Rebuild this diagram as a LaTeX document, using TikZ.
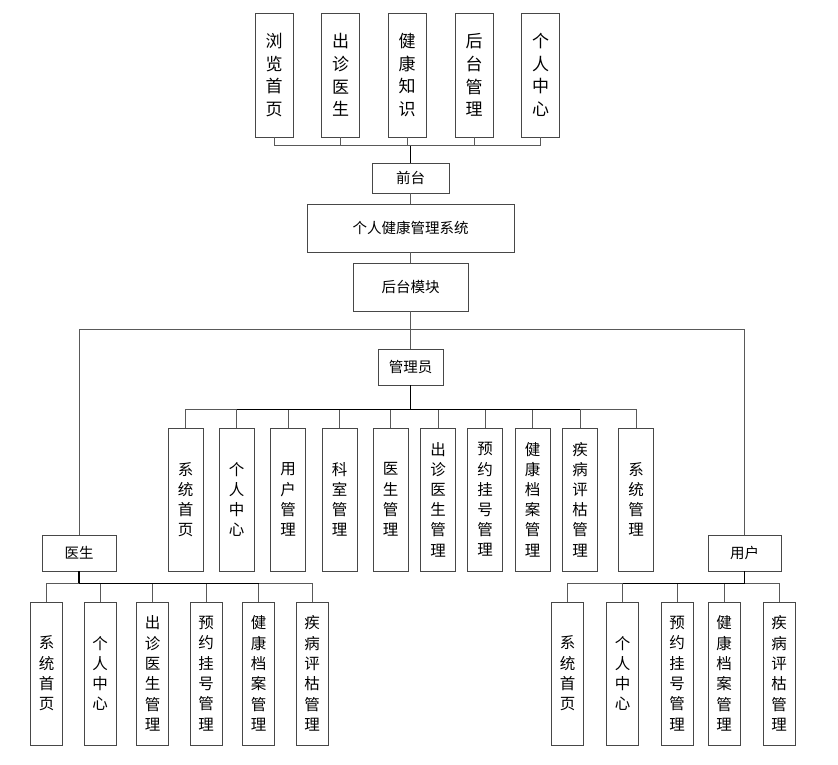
\documentclass[tikz,border=0pt]{standalone}
\usepackage{fontspec}
\setmainfont{Noto Sans CJK SC}
\begin{document}
\begin{tikzpicture}[x=1pt,y=-1pt,
  box/.style={draw=black!72,line width=0.9pt,fill=white,inner sep=0pt,align=center,text=black},
  hbox/.style={box,font=\fontsize{14.5}{17}\selectfont},
  topbox/.style={box,minimum width=38pt,minimum height=124pt,font=\fontsize{17}{22.7}\selectfont},
  midbox/.style={box,minimum width=35pt,minimum height=143pt,font=\fontsize{15.5}{20.2}\selectfont},
  lowbox/.style={box,minimum width=32pt,minimum height=143pt,font=\fontsize{15.5}{20.3}\selectfont},
  conn/.style={draw=black!65,line width=0.8pt},
  trunk/.style={draw=black,line width=1.2pt}]
\useasboundingbox (0,0) rectangle (838,764);
% top level
\node[topbox] (t1) at (274,75) {浏\\览\\首\\页};
\node[topbox] (t2) at (340.5,75) {出\\诊\\医\\生};
\node[topbox] (t3) at (407,75) {健\\康\\知\\识};
\node[topbox] (t4) at (474,75) {后\\台\\管\\理};
\node[topbox] (t5) at (540.5,75) {个\\人\\中\\心};
\node[hbox,minimum width=77pt,minimum height=30pt] (qt) at (410.5,178) {前台};
\node[hbox,minimum width=207pt,minimum height=48pt] (sys) at (410.5,228) {个人健康管理系统};
\node[hbox,minimum width=115pt,minimum height=48pt] (ht) at (410.5,287) {后台模块};
\node[hbox,minimum width=65pt,minimum height=36pt] (adm) at (410.5,367) {管理员};
\node[hbox,minimum width=74pt,minimum height=36pt] (doc) at (79,553) {医生};
\node[hbox,minimum width=73pt,minimum height=36pt] (usr) at (744.5,553) {用户};
% admin children
\node[midbox] (a1) at (185.5,499.5) {系\\统\\首\\页};
\node[midbox] (a2) at (236.5,499.5) {个\\人\\中\\心};
\node[midbox] (a3) at (288,499.5) {用\\户\\管\\理};
\node[midbox] (a4) at (339.5,499.5) {科\\室\\管\\理};
\node[midbox] (a5) at (390.5,499.5) {医\\生\\管\\理};
\node[midbox] (a6) at (438,499.5) {出\\诊\\医\\生\\管\\理};
\node[midbox] (a7) at (485,499.5) {预\\约\\挂\\号\\管\\理};
\node[midbox] (a8) at (532.5,499.5) {健\\康\\档\\案\\管\\理};
\node[midbox] (a9) at (580,499.5) {疾\\病\\评\\枯\\管\\理};
\node[midbox] (a10) at (636,499.5) {系\\统\\管\\理};
% doctor children
\node[lowbox] (d1) at (46.5,673.5) {系\\统\\首\\页};
\node[lowbox] (d2) at (100,673.5) {个\\人\\中\\心};
\node[lowbox] (d3) at (152.5,673.5) {出\\诊\\医\\生\\管\\理};
\node[lowbox] (d4) at (206,673.5) {预\\约\\挂\\号\\管\\理};
\node[lowbox] (d5) at (258.5,673.5) {健\\康\\档\\案\\管\\理};
\node[lowbox] (d6) at (312,673.5) {疾\\病\\评\\枯\\管\\理};
% user children
\node[lowbox] (u1) at (567.5,673.5) {系\\统\\首\\页};
\node[lowbox] (u2) at (622.5,673.5) {个\\人\\中\\心};
\node[lowbox] (u3) at (677,673.5) {预\\约\\挂\\号\\管\\理};
\node[lowbox] (u4) at (724,673.5) {健\\康\\档\\案\\管\\理};
\node[lowbox] (u5) at (779,673.5) {疾\\病\\评\\枯\\管\\理};
% connectors
\foreach \c in {t1,t2,t3,t4,t5} \draw[conn] (qt.north) -- ++(0,-17) -| (\c.south);
\draw[trunk] (qt.north) -- ++(0,-17);
\draw[conn] (qt.south) -- (sys.north);
\draw[conn] (sys.south) -- (ht.north);
\draw[conn] (ht.south) -- (adm.north);
\draw[conn] (ht.south) -- ++(0,18) -| (doc.north);
\draw[conn] (ht.south) -- ++(0,18) -| (usr.north);
\foreach \c in {a1,a2,a3,a4,a5,a6,a7,a8,a9,a10} \draw[conn] (adm.south) -- ++(0,24) -| (\c.north);
\draw[trunk] (adm.south) -- ++(0,24);
\draw[trunk,line width=1pt] (a2.north |- 0,409) -- (a9.north |- 0,409);
\foreach \c in {d1,d2,d3,d4,d5,d6} \draw[conn] (doc.south) -- ++(0,12) -| (\c.north);
\draw[trunk] (doc.south) -- ++(0,12);
\draw[trunk,line width=1pt] (doc.south |- 0,583) -- (d5.north |- 0,583);
\foreach \c in {u1,u2,u3,u4,u5} \draw[conn] (usr.south) -- ++(0,12) -| (\c.north);
\draw[trunk] (usr.south) -- ++(0,12);
\draw[trunk,line width=1pt] (u2.north |- 0,583) -- (usr.south |- 0,583);
\end{tikzpicture}
\end{document}
